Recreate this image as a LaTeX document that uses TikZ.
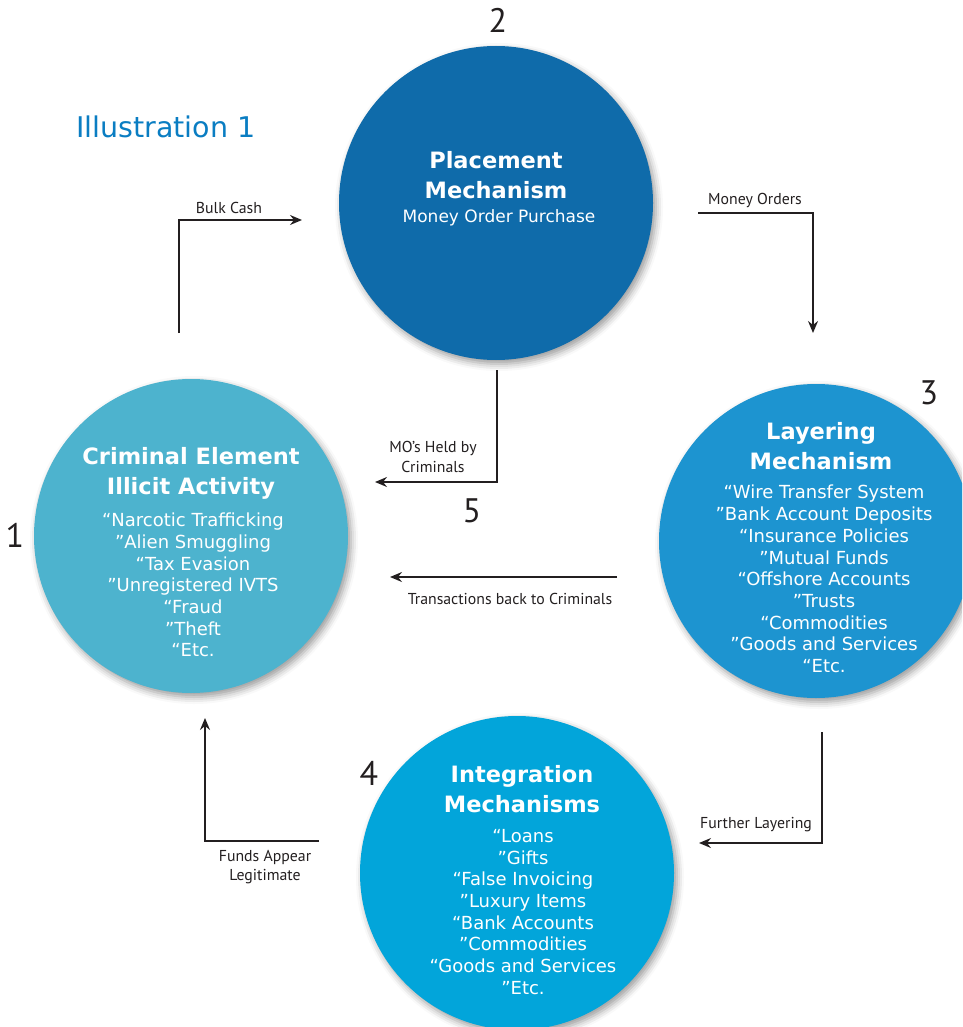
\documentclass[tikz,border=0pt]{standalone}
\usepackage{fontspec}
\setmainfont{DejaVu Sans}
\newfontfamily\lblfont{PT Sans}
\usetikzlibrary{arrows.meta,shadows.blur}
\definecolor{cone}{HTML}{4DB3CE}
\definecolor{ctwo}{HTML}{0F6BAA}
\definecolor{cthree}{HTML}{1D94D0}
\definecolor{cfour}{HTML}{02A5DA}
\definecolor{ink}{HTML}{231F20}
\definecolor{titleblue}{HTML}{0A7DC2}
\begin{document}
\begin{tikzpicture}[x=1pt,y=-1pt,
  disc/.style={circle,minimum size=314pt,inner sep=0pt,
    blur shadow={shadow xshift=3pt,shadow yshift=-4pt,shadow blur radius=7pt,shadow opacity=40}},
  ttl/.style={text=white,align=center,inner sep=0pt,font=\fontsize{22.5}{30}\selectfont\bfseries},
  items/.style={text=white,align=center,inner sep=0pt,font=\fontsize{18}{21.7}\selectfont},
  lbl/.style={text=ink,align=center,inner sep=0pt,font=\lblfont\fontsize{15.8}{19.5}\selectfont},
  num/.style={text=ink,inner sep=0pt,font=\lblfont\fontsize{34}{36}\selectfont},
  flow/.style={draw=ink,line width=1.6pt,-{Stealth[length=12pt,width=10pt,inset=4pt]}}]
\useasboundingbox (0,0) rectangle (962,1027);
\clip (0,0) rectangle (962,1027);

% title
\node[text=titleblue,font=\fontsize{28.5}{32}\selectfont,anchor=west,inner sep=0pt] (ill) at (76,127) {Illustration 1};

% circles
\node[disc,fill=ctwo] (c2) at (496,203) {};
\node[disc,fill=cone] (c1) at (191,536) {};
\node[disc,fill=cthree] (c3) at (816,541) {};
\node[disc,fill=cfour] (c4) at (517,873) {};

% circle texts
\node[ttl] (t2) at (496,175) {Placement\\Mechanism};
\node[items,font=\fontsize{17}{20}\selectfont] (s2) at (499,218) {Money Order Purchase};

\node[ttl] (t1) at (191,473) {Criminal Element\\Illicit Activity};
\node[items] (i1) at (193,585) {“Narcotic Trafficking\\”Alien Smuggling\\“Tax Evasion\\”Unregistered IVTS\\“Fraud\\”Theft\\“Etc.};

\node[ttl] (t3) at (821,446) {Layering\\Mechanism};
\node[items] (i3) at (824,579) {“Wire Transfer System\\”Bank Account Deposits\\“Insurance Policies\\”Mutual Funds\\“Offshore Accounts\\”Trusts\\“Commodities\\”Goods and Services\\“Etc.};

\node[ttl] (t4) at (522,789) {Integration\\Mechanisms};
\node[items] (i4) at (523,912) {“Loans\\”Gifts\\“False Invoicing\\”Luxury Items\\“Bank Accounts\\”Commodities\\“Goods and Services\\”Etc.};

% numbers
\node[num] (n1) at (15,535) {1};
\node[num] (n2) at (498,20) {2};
\node[num] (n3) at (929,393) {3};
\node[num] (n4) at (369,773) {4};
\node[num] (n5) at (472,511) {5};

% connectors
\coordinate (bcS) at (179,333); \coordinate (bcE) at (302,220);
\draw[flow] (bcS) |- (bcE);
\node[lbl] (bcL) at (229,208) {Bulk Cash};

\coordinate (moS) at (698,213); \coordinate (moE) at (813,333);
\draw[flow] (moS) -| (moE);
\node[lbl] (moL) at (755,200) {Money Orders};

\coordinate (hS) at (497,370); \coordinate (hE) at (375,482);
\draw[flow] (hS) |- (hE);
\node[lbl] (hL) at (433,457) {MO’s Held by\\Criminals};

\coordinate (trS) at (617,577); \coordinate (trE) at (390,577);
\draw[flow] (trS) -- (trE);
\node[lbl] (trL) at (510,599) {Transactions back to Criminals};

\coordinate (flS) at (822,732); \coordinate (flE) at (699,843);
\draw[flow] (flS) |- (flE);
\node[lbl] (flL) at (756,825) {Further Layering};

\coordinate (faS) at (319,841); \coordinate (faE) at (205,718);
\draw[flow] (faS) -| (faE);
\node[lbl] (faL) at (265,867) {Funds Appear\\Legitimate};
\end{tikzpicture}
\end{document}
